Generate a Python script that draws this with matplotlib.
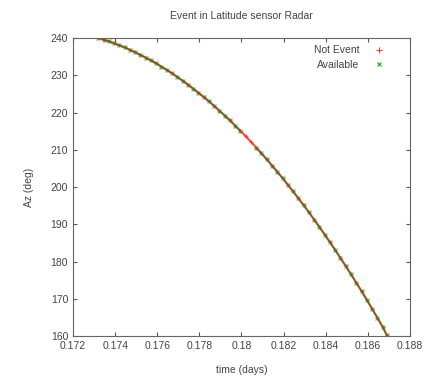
import numpy as np
import matplotlib
matplotlib.use("Agg")
import matplotlib.pyplot as plt
from matplotlib.lines import Line2D

plt.rcParams['font.family'] = ['Liberation Sans', 'DejaVu Sans']

# time samples (days) and azimuth (deg)
time = [0.17320, 0.17345, 0.17370, 0.17395, 0.17420, 0.17445, 0.17470, 0.17495,
        0.17520, 0.17545, 0.17570, 0.17595, 0.17620, 0.17645, 0.17670, 0.17695,
        0.17720, 0.17745, 0.17770, 0.17795, 0.17820, 0.17845, 0.17870, 0.17895,
        0.17920, 0.17945, 0.17970, 0.17995, 0.18020, 0.18045, 0.18070, 0.18095,
        0.18120, 0.18145, 0.18170, 0.18195, 0.18220, 0.18245, 0.18270, 0.18295,
        0.18320, 0.18345, 0.18370, 0.18395, 0.18420, 0.18445, 0.18470, 0.18495,
        0.18520, 0.18545, 0.18570, 0.18595, 0.18620, 0.18645, 0.18670, 0.18690]
az = [240.00, 239.57, 239.10, 238.59, 238.05, 237.47, 236.85, 236.19,
      235.49, 234.76, 233.99, 233.18, 232.33, 231.45, 230.52, 229.56,
      228.56, 227.52, 226.45, 225.34, 224.19, 223.00, 221.77, 220.50,
      219.20, 217.86, 216.48, 215.07, 213.61, 212.12, 210.59, 209.02,
      207.41, 205.77, 204.09, 202.37, 200.61, 198.81, 196.98, 195.11,
      193.20, 191.25, 189.27, 187.24, 185.18, 183.08, 180.95, 178.77,
      176.56, 174.31, 172.02, 169.69, 167.33, 164.92, 162.48, 160.20]
# samples that are not "Available" (the red stretch)
not_available = [28, 29]

t = np.array(time)
a = np.array(az)
avail = a.copy()
avail[not_available] = np.nan

red = '#ff3030'
green = '#22a022'

fig = plt.figure(figsize=(4.32, 3.83), dpi=100)
ax = fig.add_axes([0.169, 0.1227, 0.78, 0.778])

ax.plot(t, a, color=red, lw=1.6, marker='+', ms=3, mew=0.8, alpha=0.85)
ax.plot(t, avail, color=green, lw=0.9, marker='x', ms=2.5, mew=0.7, alpha=0.75)
ax.plot(t, avail, color='#7a3a1a', lw=0.7, alpha=0.6)

ax.set_xlim(0.172, 0.188)
ax.set_ylim(160, 240)
xt = np.arange(0.172, 0.1881, 0.002)
ax.set_xticks(xt)
ax.set_xticklabels(['%g' % round(v, 3) for v in xt])
ax.set_yticks(np.arange(160, 241, 10))
ax.tick_params(direction='in', top=True, right=True, labelsize=7.5, length=3,
               colors='#555555', labelcolor='#444444')
for s in ax.spines.values():
    s.set_color('#666666')
    s.set_linewidth(0.8)

ax.set_title('Event in Latitude sensor Radar', fontsize=7.5, color='#444444', pad=14)
ax.set_xlabel('time (days)', fontsize=7.5, color='#444444', labelpad=10)
ax.set_ylabel('Az (deg)', fontsize=7.5, color='#444444', labelpad=12)

handles = [Line2D([], [], ls='none', marker='+', color=red, ms=4, mew=0.8),
           Line2D([], [], ls='none', marker='x', color=green, ms=3.5, mew=0.8)]
leg = ax.legend(handles, ['Not Event', 'Available'], loc='upper right',
                bbox_to_anchor=(0.965, 1.0), frameon=False, markerfirst=False,
                fontsize=7.5, handlelength=2.2, borderaxespad=0.3, labelspacing=0.45)
for txt in leg.get_texts():
    txt.set_color('#444444')

fig.savefig('out.png', dpi=100)
